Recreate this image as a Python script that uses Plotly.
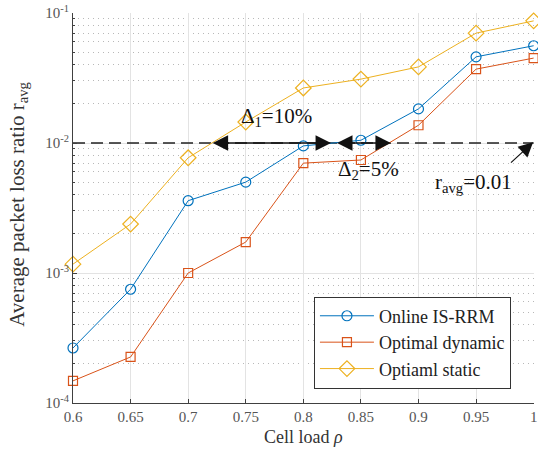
import plotly.graph_objects as go

load = [0.6, 0.65, 0.7, 0.75, 0.8, 0.85, 0.9, 0.95, 1.0]
online_isrrm = [2.65e-4, 7.5e-4, 3.6e-3, 5.0e-3, 9.5e-3, 1.05e-2, 1.83e-2, 4.6e-2, 5.6e-2]
optimal_dynamic = [1.48e-4, 2.26e-4, 1.0e-3, 1.73e-3, 7.0e-3, 7.4e-3, 1.37e-2, 3.7e-2, 4.5e-2]
optimal_static = [1.17e-3, 2.38e-3, 7.7e-3, 1.45e-2, 2.65e-2, 3.1e-2, 3.85e-2, 7.0e-2, 8.7e-2]
threshold_x = [0.6, 1.0]
threshold_y = [0.01, 0.01]
x_ticks = [0.6, 0.65, 0.7, 0.75, 0.8, 0.85, 0.9, 0.95, 1.0]
x_ticktext = ["0.6", "0.65", "0.7", "0.75", "0.8", "0.85", "0.9", "0.95", "1"]
y_ticks = [1e-4, 1e-3, 1e-2, 1e-1]
y_ticktext = ["10<sup>-4</sup>", "10<sup>-3</sup>", "10<sup>-2</sup>", "10<sup>-1</sup>"]

FONT = "Liberation Serif"
BLUE = "#0072BD"
RED = "#D95319"
YEL = "#EDB120"
AX = "#404040"

fig = go.Figure()
fig.add_trace(go.Scatter(x=threshold_x, y=threshold_y, mode="lines",
                         line=dict(color="#222222", width=1.6, dash="12px,6px"),
                         showlegend=False, hoverinfo="skip"))
fig.add_trace(go.Scatter(x=load, y=online_isrrm, mode="lines+markers", name="Online IS-RRM",
                         line=dict(color=BLUE, width=1),
                         marker=dict(symbol="circle-open", size=10, color=BLUE, line=dict(width=1.2)),
                         cliponaxis=False))
fig.add_trace(go.Scatter(x=load, y=optimal_dynamic, mode="lines+markers", name="Optimal dynamic",
                         line=dict(color=RED, width=1),
                         marker=dict(symbol="square-open", size=9, color=RED, line=dict(width=1.2)),
                         cliponaxis=False))
fig.add_trace(go.Scatter(x=load, y=optimal_static, mode="lines+markers", name="Optiaml static",
                         line=dict(color=YEL, width=1),
                         marker=dict(symbol="diamond-open", size=12, color=YEL, line=dict(width=1.2)),
                         cliponaxis=False))

annos = []
# double arrows (log10 y coordinates for annotations on log axis)
for (x0, x1) in [(0.72, 0.824), (0.828, 0.876)]:
    annos.append(dict(x=x1, y=-2, ax=x0, ay=-2, xref="x", yref="y", axref="x", ayref="y",
                      text="", showarrow=True, arrowhead=2, startarrowhead=2,
                      arrowside="end+start", arrowsize=2.2, startarrowsize=2.2,
                      arrowwidth=1.4, arrowcolor="#111111", standoff=0, startstandoff=0))
annos.append(dict(x=0.9995, y=-1.995, ax=0.979, ay=-2.162, xref="x", yref="y", axref="x", ayref="y",
                  text="", showarrow=True, arrowhead=2, arrowsize=2.4, arrowwidth=1.2,
                  arrowcolor="#111111", standoff=0))
annos.append(dict(x=0.744, y=-1.80, xref="x", yref="y", text="Δ<sub>1</sub>=10%", showarrow=False,
                  xanchor="left", yanchor="middle", font=dict(family=FONT, size=21, color="#111111")))
annos.append(dict(x=0.8284, y=-2.21, xref="x", yref="y", text="Δ<sub>2</sub>=5%", showarrow=False,
                  xanchor="left", yanchor="middle", font=dict(family=FONT, size=21, color="#111111")))
annos.append(dict(x=0.913, y=-2.31, xref="x", yref="y", text="r<sub>avg</sub>=0.01", showarrow=False,
                  xanchor="left", yanchor="middle", font=dict(family=FONT, size=21, color="#111111")))
# axis titles
annos.append(dict(x=0.5, y=-0.087, xref="paper", yref="paper", text="Cell load <i>ρ</i>", showarrow=False,
                  xanchor="center", yanchor="middle", font=dict(family=FONT, size=18, color="#333333")))
annos.append(dict(x=-0.12, y=0.51, xref="paper", yref="paper", text="Average packet loss ratio r<sub>avg</sub>",
                  showarrow=False, textangle=-90, xanchor="center", yanchor="middle",
                  font=dict(family=FONT, size=21, color="#333333")))

fig.update_layout(
    width=538, height=453,
    margin=dict(l=73, r=1, t=13, b=50),
    paper_bgcolor="white", plot_bgcolor="white",
    font=dict(family=FONT, size=15, color=AX),
    annotations=annos,
    legend=dict(x=0.95, y=0.037, xanchor="right", yanchor="bottom",
                bgcolor="white", bordercolor="#333333", borderwidth=1,
                font=dict(family=FONT, size=18, color="#222222"),
                itemwidth=54, tracegroupgap=0),
    showlegend=True,
)
fig.update_xaxes(range=[0.6, 1.0003], tickvals=x_ticks, ticktext=x_ticktext,
                 showline=True, linecolor=AX, linewidth=1, ticks="inside", ticklen=4, tickcolor=AX,
                 showgrid=True, gridcolor="#e3e3e3", gridwidth=1, zeroline=False,
                 ticklabeloverflow="allow",
                 tickfont=dict(family=FONT, size=15, color="#555555"))
fig.update_yaxes(type="log", range=[-4, -1], tickvals=y_ticks, ticktext=y_ticktext,
                 showline=True, linecolor=AX, linewidth=1, ticks="inside", ticklen=4, tickcolor=AX,
                 showgrid=True, gridcolor="#e3e3e3", gridwidth=1, zeroline=False,
                 tickfont=dict(family=FONT, size=15, color="#555555"),
                 minor=dict(dtick="D1", showgrid=True, gridcolor="#b8b8b8", griddash="1px,4px", gridwidth=1,
                            ticks="inside", ticklen=2, tickcolor=AX))

fig.write_html("out.html")
